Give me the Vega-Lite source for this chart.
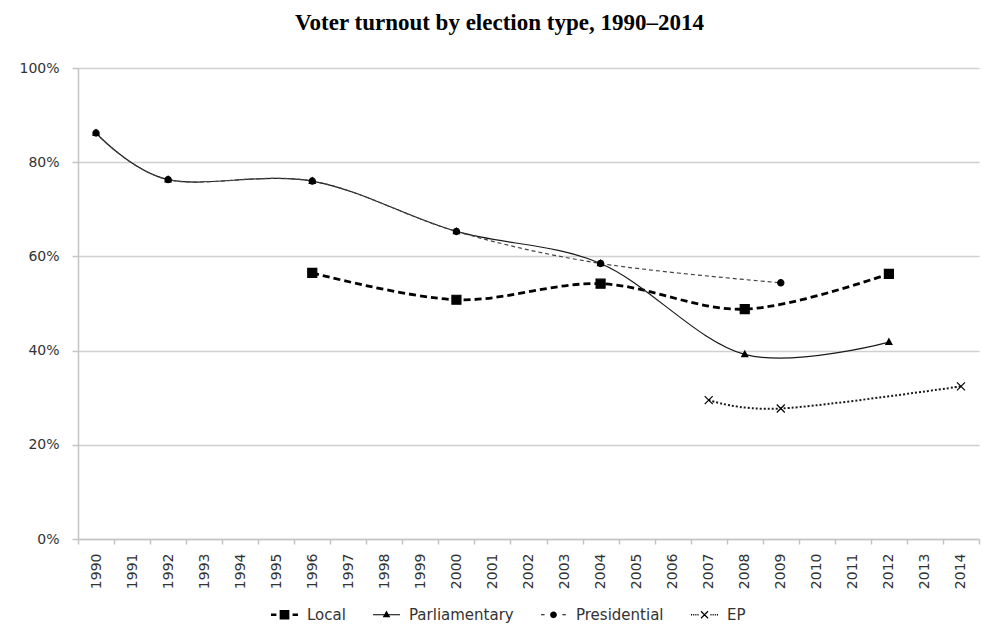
{
  "$schema": "https://vega.github.io/schema/vega-lite/v6.json",
  "width": 901,
  "height": 471,
  "autosize": {"type": "none"},
  "padding": {"left": 78, "top": 68, "right": 4, "bottom": 96},
  "background": "white",
  "config": {"view": {"stroke": null}},
  "title": {
    "text": "Voter turnout by election type, 1990–2014",
    "font": "Liberation Serif",
    "fontSize": 23,
    "fontWeight": "bold",
    "color": "black",
    "anchor": "middle",
    "frame": "group",
    "dx": -29,
    "offset": 26
  },
  "data": {
    "values": [
      {"year": 1996, "series": "Local", "turnout": 56.5},
      {"year": 2000, "series": "Local", "turnout": 50.8},
      {"year": 2004, "series": "Local", "turnout": 54.2},
      {"year": 2008, "series": "Local", "turnout": 48.8},
      {"year": 2012, "series": "Local", "turnout": 56.3},
      {"year": 1990, "series": "Parliamentary", "turnout": 86.2},
      {"year": 1992, "series": "Parliamentary", "turnout": 76.3},
      {"year": 1996, "series": "Parliamentary", "turnout": 76.0},
      {"year": 2000, "series": "Parliamentary", "turnout": 65.3},
      {"year": 2004, "series": "Parliamentary", "turnout": 58.5},
      {"year": 2008, "series": "Parliamentary", "turnout": 39.2},
      {"year": 2012, "series": "Parliamentary", "turnout": 41.8},
      {"year": 1990, "series": "Presidential", "turnout": 86.2},
      {"year": 1992, "series": "Presidential", "turnout": 76.3},
      {"year": 1996, "series": "Presidential", "turnout": 76.0},
      {"year": 2000, "series": "Presidential", "turnout": 65.3},
      {"year": 2004, "series": "Presidential", "turnout": 58.5},
      {"year": 2009, "series": "Presidential", "turnout": 54.4},
      {"year": 2007, "series": "EP", "turnout": 29.5},
      {"year": 2009, "series": "EP", "turnout": 27.7},
      {"year": 2014, "series": "EP", "turnout": 32.4}
    ]
  },
  "encoding": {
    "x": {
      "field": "year",
      "type": "ordinal",
      "bandPosition": 0.5,
      "scale": {
        "type": "band",
        "domain": [1990, 1991, 1992, 1993, 1994, 1995, 1996, 1997, 1998, 1999, 2000, 2001, 2002, 2003, 2004, 2005, 2006, 2007, 2008, 2009, 2010, 2011, 2012, 2013, 2014],
        "paddingInner": 0,
        "paddingOuter": 0
      },
      "axis": {
        "title": null,
        "tickBand": "extent",
        "labelAngle": 270,
        "tickSize": 5,
        "labelPadding": 9,
        "domainColor": "#c4c4c4",
        "domainWidth": 1.5,
        "tickColor": "#c4c4c4",
        "tickWidth": 1.5,
        "labelFont": "DejaVu Sans",
        "labelFontSize": 14,
        "labelColor": "#333333",
        "grid": false
      }
    },
    "y": {
      "field": "turnout",
      "type": "quantitative",
      "scale": {"domain": [0, 100]},
      "axis": {
        "title": null,
        "values": [0, 20, 40, 60, 80, 100],
        "labelExpr": "datum.value + '%'",
        "grid": true,
        "gridColor": "#d0d0d0",
        "gridWidth": 1.5,
        "domainColor": "#c4c4c4",
        "domainWidth": 1.5,
        "tickColor": "#c4c4c4",
        "tickWidth": 1.5,
        "tickSize": 6,
        "labelPadding": 13,
        "labelFont": "DejaVu Sans",
        "labelFontSize": 14,
        "labelColor": "#333333"
      }
    }
  },
  "layer": [
    {
      "transform": [{"filter": "datum.series === 'Local'"}],
      "mark": {"type": "line", "interpolate": "cardinal", "tension": 0, "color": "black", "strokeWidth": 2.8, "strokeDash": [7, 4]}
    },
    {
      "transform": [{"filter": "datum.series === 'Parliamentary'"}],
      "mark": {"type": "line", "interpolate": "cardinal", "tension": 0, "color": "#1a1a1a", "strokeWidth": 1.2}
    },
    {
      "transform": [{"filter": "datum.series === 'Presidential'"}],
      "mark": {"type": "line", "interpolate": "cardinal", "tension": 0, "color": "#444444", "strokeWidth": 1.2, "strokeDash": [4, 3]}
    },
    {
      "transform": [{"filter": "datum.series === 'EP'"}],
      "mark": {"type": "line", "interpolate": "cardinal", "tension": 0, "color": "#1a1a1a", "strokeWidth": 2, "strokeDash": [2, 2]}
    },
    {
      "transform": [{"filter": "datum.series === 'Local'"}],
      "mark": {"type": "point", "shape": "M-0.9,-0.9H0.9V0.9H-0.9Z", "filled": true, "fill": "black", "stroke": "black", "strokeWidth": 1.2, "size": 100, "opacity": 1}
    },
    {
      "transform": [{"filter": "datum.series === 'Parliamentary'"}],
      "mark": {"type": "point", "shape": "M0,-0.65L0.6,0.45H-0.6Z", "filled": true, "fill": "black", "stroke": "black", "strokeWidth": 1.2, "size": 100, "opacity": 1}
    },
    {
      "transform": [{"filter": "datum.series === 'Presidential'"}],
      "mark": {"type": "point", "shape": "M-0.62,0A0.62,0.62,0,1,0,0.62,0A0.62,0.62,0,1,0,-0.62,0Z", "filled": true, "fill": "black", "stroke": "black", "strokeWidth": 1.2, "size": 100, "opacity": 1}
    },
    {
      "transform": [{"filter": "datum.series === 'EP'"}],
      "mark": {"type": "point", "shape": "M-0.8,-0.8L0.8,0.8M-0.8,0.8L0.8,-0.8", "filled": false, "stroke": "black", "strokeWidth": 1.2, "size": 100, "opacity": 1}
    },
    {
      "description": "Legend key only: line-with-marker glyphs for each series, no plotted rows",
      "transform": [{"filter": "false"}],
      "mark": {"type": "point", "filled": true, "fill": "black", "opacity": 1},
      "encoding": {
        "shape": {
          "field": "series",
          "type": "nominal",
          "scale": {
            "domain": ["Local", "Parliamentary", "Presidential", "EP"],
            "range": [
              "M-1,-0.09H-0.6V0.09H-1ZM0.6,-0.09H1V0.09H0.6ZM-0.36,-0.36H0.36V0.36H-0.36Z",
              "M-1,-0.04H1V0.04H-1ZM0,-0.32L0.28,0.18H-0.28Z",
              "M-0.92,-0.04H-0.66V0.04H-0.92ZM0.66,-0.04H0.92V0.04H0.66ZM-0.25,0A0.25,0.25,0,1,0,0.25,0A0.25,0.25,0,1,0,-0.25,0Z",
              "M-1,-0.05H-0.92V0.05H-1ZM-0.84,-0.05H-0.76V0.05H-0.84ZM-0.68,-0.05H-0.6V0.05H-0.68ZM-0.52,-0.05H-0.44V0.05H-0.52ZM0.44,-0.05H0.52V0.05H0.44ZM0.6,-0.05H0.68V0.05H0.6ZM0.76,-0.05H0.84V0.05H0.76ZM0.92,-0.05H1V0.05H0.92ZM-0.23,-0.29L0.29,0.23L0.23,0.29L-0.29,-0.23ZM-0.29,0.23L0.23,-0.29L0.29,-0.23L-0.23,0.29Z"
            ]
          },
          "legend": {
            "title": null,
            "orient": "none",
            "direction": "horizontal",
            "legendX": 192,
            "legendY": 532,
            "symbolSize": 729,
            "symbolFillColor": "black",
            "symbolOpacity": 1,
            "labelOffset": 8,
            "columnPadding": 24,
            "labelFont": "DejaVu Sans",
            "labelFontSize": 15,
            "labelColor": "#333333"
          }
        }
      }
    }
  ]
}
